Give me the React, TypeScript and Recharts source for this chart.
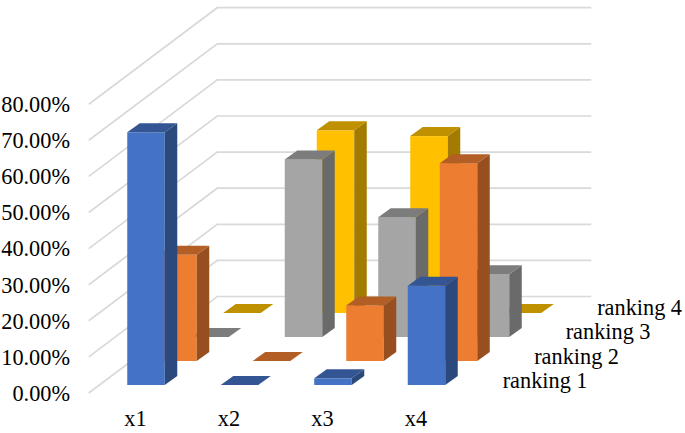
import { BarChart, Bar, XAxis, YAxis, CartesianGrid } from 'recharts'

const categories = ['x1', 'x2', 'x3', 'x4']
const ranking1 = [70, 0, 1.85, 27.5]
const ranking2 = [29.4, 0, 15.4, 54.8]
const ranking3 = [0, 49.2, 33.2, 17.4]
const ranking4 = [0, 50.6, 49, 0]
const yTicks = [0, 10, 20, 30, 40, 50, 60, 70, 80]

const data = categories.map((name, i) => ({
    name,
    r1: ranking1[i],
    r2: ranking2[i],
    r3: ranking3[i],
    r4: ranking4[i],
}))

const FONT = '"Liberation Serif", serif'
const FONT_SIZE = 22.3

// one step back along the floor, per series
const STEP_X = 32
const STEP_Y = 24
// bar's own extrusion
const SIDE_X = 12.5
const SIDE_Y = 9
// whole wall depth
const WALL_X = 128.5
const WALL_Y = 96.5

function bar3d(rank: number, front: string, top: string, side: string) {
    const dx = 10.5 + rank * STEP_X
    const dy = -rank * STEP_Y
    return (props: any) => {
        const x = props.x + dx
        const y = props.y + dy
        const w = props.width
        const h = props.height
        return (
            <g>
                {h > 0 && <rect x={x} y={y} width={w} height={h} fill={front} />}
                {h > 0 && (
                    <polygon
                        points={`${x + w},${y} ${x + w + SIDE_X},${y - SIDE_Y} ${x + w + SIDE_X},${y + h - SIDE_Y} ${x + w},${y + h}`}
                        fill={side}
                    />
                )}
                <polygon
                    points={`${x},${y} ${x + w},${y} ${x + w + SIDE_X},${y - SIDE_Y} ${x + SIDE_X},${y - SIDE_Y}`}
                    fill={top}
                />
            </g>
        )
    }
}

function wallLine(props: any) {
    const y = props.y1 + 8
    return (
        <polyline
            key={props.key}
            points={`${props.x1},${y} ${props.x1 + WALL_X},${y - WALL_Y} ${props.x2 + WALL_X},${y - WALL_Y}`}
            fill="none"
            stroke="#D9D9D9"
            strokeWidth={1.7}
        />
    )
}

function yTick(props: any) {
    return (
        <text x={70} y={props.y + 8} dy="0.35em" textAnchor="end" fontFamily={FONT} fontSize={FONT_SIZE} fill="#000">
            {`${props.payload.value.toFixed(2)}%`}
        </text>
    )
}

const rankAxes = ['a1', 'a2', 'a3', 'a4']
const rankLabels = ['ranking 1', 'ranking 2', 'ranking 3', 'ranking 4']

export default function App() {
    return (
        <div style={{ position: 'absolute', left: 0, top: 0, width: 685, height: 433 }}>
            <BarChart
                width={685}
                height={433}
                data={data}
                margin={{ top: 96.2, right: 222.25, bottom: 0, left: 0 }}
                barCategoryGap={0}
            >
                <CartesianGrid vertical={false} horizontal={wallLine} />
                <YAxis
                    type="number"
                    domain={[0, 80]}
                    ticks={yTicks}
                    width={88.75}
                    axisLine={false}
                    tickLine={false}
                    tick={yTick}
                />
                <XAxis
                    dataKey="name"
                    height={48}
                    axisLine={false}
                    tickLine={false}
                    tickSize={0}
                    tickMargin={25}
                    tick={{ fontFamily: FONT, fontSize: FONT_SIZE, fill: '#000' }}
                />
                {rankAxes.map((id) => (
                    <XAxis key={id} xAxisId={id} dataKey="name" hide />
                ))}

                <Bar dataKey="r4" xAxisId="a4" barSize={37.5} isAnimationActive={false} shape={bar3d(3, '#FFC000', '#BF9000', '#A37B00')} />
                <Bar dataKey="r3" xAxisId="a3" barSize={37.5} isAnimationActive={false} shape={bar3d(2, '#A5A5A5', '#7C7C7C', '#6A6A6A')} />
                <Bar dataKey="r2" xAxisId="a2" barSize={37.5} isAnimationActive={false} shape={bar3d(1, '#ED7D31', '#B25E25', '#984F1F')} />
                <Bar dataKey="r1" xAxisId="a1" barSize={37.5} isAnimationActive={false} shape={bar3d(0, '#4472C4', '#335593', '#2C497E')} />

                {rankLabels.map((label, i) => (
                    <text key={label} x={502.7 + i * 31.5} y={388 - i * 24.3} fontFamily={FONT} fontSize={FONT_SIZE} fill="#000">
                        {label}
                    </text>
                ))}
            </BarChart>
        </div>
    )
}
